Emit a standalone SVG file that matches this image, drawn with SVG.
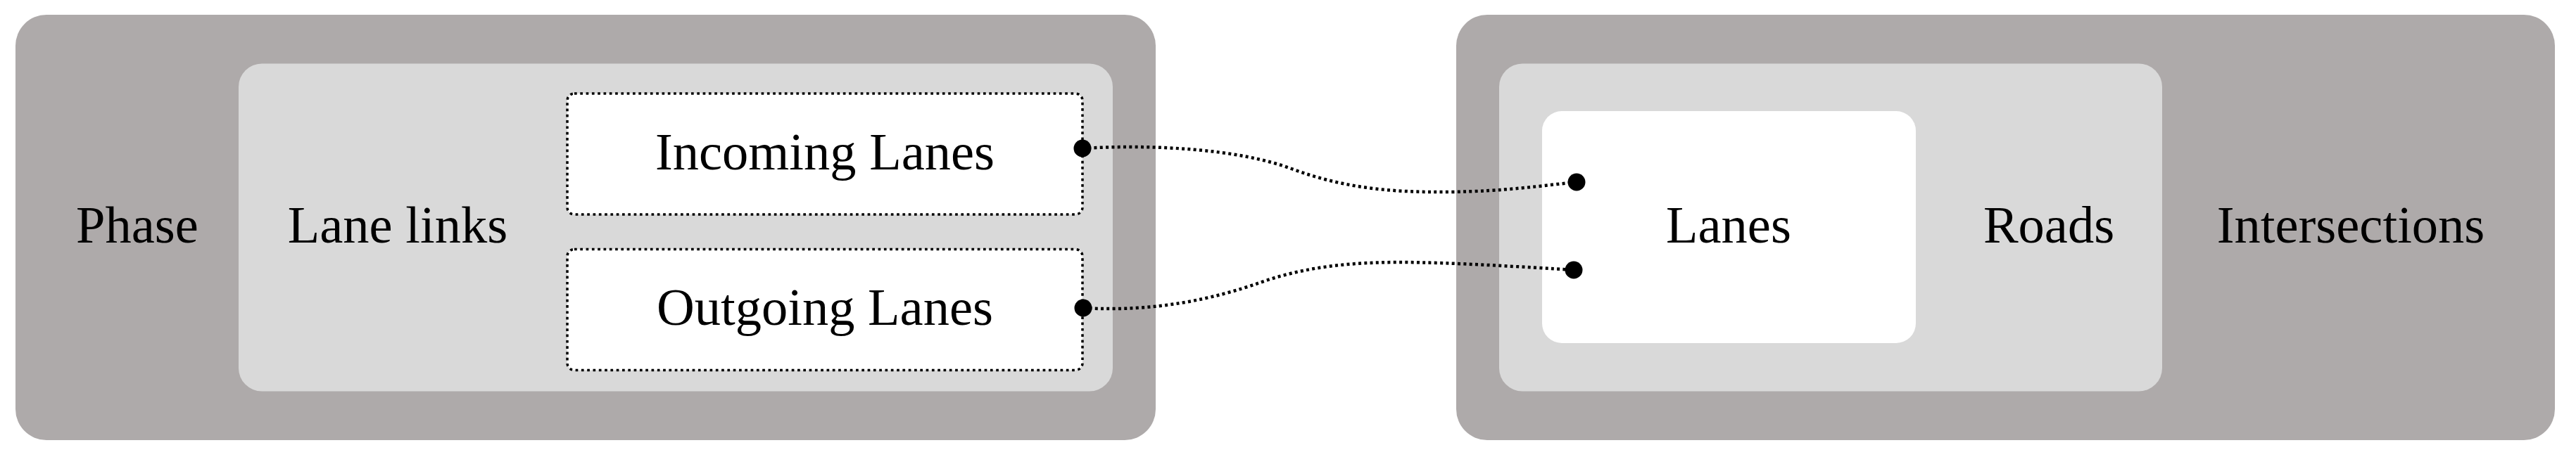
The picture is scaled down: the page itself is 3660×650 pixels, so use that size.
<svg xmlns="http://www.w3.org/2000/svg" width="3660" height="650" viewBox="0 0 3660 650">
<style>
  .outer { fill: #aeaaaa; }
  .mid { fill: #d9d9d9; }
  .inner { fill: #ffffff; }
  .port { fill: #ffffff; stroke: #000000; stroke-width: 3.5; stroke-dasharray: 3.7 4.6; }
  .lbl { font-family: "Liberation Serif", "Times New Roman", serif; font-size: 74.5px; fill: #000000; text-anchor: middle; }
  .edge { fill: none; stroke: #000000; stroke-width: 4.5; stroke-dasharray: 4 4.3; }
  .dot { fill: #000000; }
</style>
<rect width="3660" height="650" fill="#ffffff"/>
<g id="phase">
  <rect class="outer" x="22" y="21" width="1620" height="605" rx="44" ry="44"/>
  <text class="lbl" x="195" y="345">Phase</text>
</g>
<g id="lane-links">
  <rect class="mid" x="339" y="90.5" width="1242" height="466" rx="33" ry="33"/>
  <text class="lbl" x="565" y="345">Lane links</text>
</g>
<g id="incoming-lanes">
  <rect class="port" x="806" y="133" width="732" height="172" rx="10" ry="10"/>
  <text class="lbl" x="1172" y="240.5">Incoming Lanes</text>
</g>
<g id="outgoing-lanes">
  <rect class="port" x="806" y="354.5" width="732" height="172" rx="10" ry="10"/>
  <text class="lbl" x="1172" y="462">Outgoing Lanes</text>
</g>
<g id="intersections">
  <rect class="outer" x="2069" y="21" width="1561" height="605" rx="44" ry="44"/>
  <text class="lbl" x="3340" y="345">Intersections</text>
</g>
<g id="roads">
  <rect class="mid" x="2130" y="90.5" width="942" height="466" rx="33" ry="33"/>
  <text class="lbl" x="2911" y="345">Roads</text>
</g>
<g id="lanes">
  <rect class="inner" x="2191" y="158" width="531" height="330" rx="28" ry="28"/>
  <text class="lbl" x="2456" y="345">Lanes</text>
</g>
<g id="connectors">
  <path class="edge" d="M1538,211 C1640,205 1760,212 1835,240 C1910,268 1980,274 2060,273 C2140,272 2190,264 2240,259"/>
  <path class="edge" d="M1539,438 C1640,444 1725,425 1790,402 C1855,379 1920,373 1990,373 C2060,373 2170,380 2236,384"/>
  <circle class="dot" cx="1538" cy="211" r="12.5"/>
  <circle class="dot" cx="2240" cy="259" r="12.5"/>
  <circle class="dot" cx="1539" cy="438" r="12.5"/>
  <circle class="dot" cx="2236" cy="384" r="12.5"/>
</g>
</svg>
